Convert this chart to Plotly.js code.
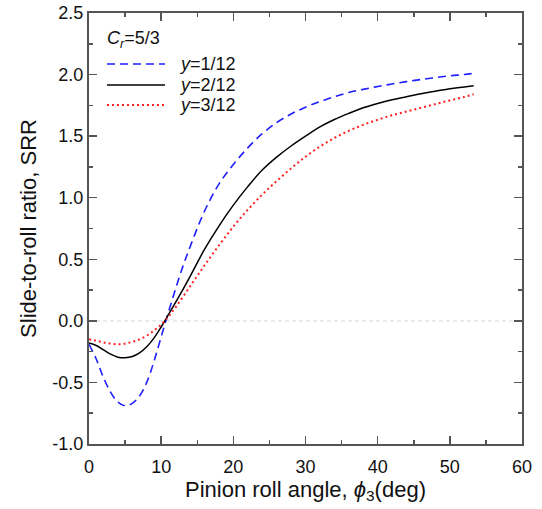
<!DOCTYPE html>
<html><head><meta charset="utf-8">
<script src="https://cdn.plot.ly/plotly-3.0.1.min.js"></script>
<style>html,body{margin:0;padding:0;background:#fff}</style>
</head><body>
<div id="chart" style="width:542px;height:509px"></div>
<script>
const seriesNames = ['<i>y</i>=1/12', '<i>y</i>=2/12', '<i>y</i>=3/12'];
const legendTitle = '<i>C</i><sub><i>r</i></sub>=5/3';
const x1 = [0, 1, 2, 3, 4, 5, 6, 7, 8, 9, 10, 11, 12, 13, 14, 16, 18, 20, 22, 24, 26, 28, 30, 32, 34, 36, 38, 40, 42, 44, 46, 48, 50, 52, 53.3];
const y1 = [-0.19, -0.31, -0.46, -0.58, -0.66, -0.69, -0.67, -0.61, -0.50, -0.33, -0.13, 0.07, 0.26, 0.44, 0.60, 0.89, 1.11, 1.27, 1.405, 1.52, 1.61, 1.68, 1.735, 1.78, 1.82, 1.855, 1.88, 1.903, 1.924, 1.943, 1.96, 1.975, 1.99, 2.00, 2.01];
const x2 = [0, 1, 2, 3, 4, 5, 6, 7, 8, 9, 10, 11, 12, 14, 16, 18, 20, 22, 24, 26, 28, 30, 32, 34, 36, 38, 40, 42, 44, 46, 48, 50, 52, 53.3];
const y2 = [-0.18, -0.20, -0.235, -0.27, -0.295, -0.30, -0.29, -0.26, -0.21, -0.14, -0.05, 0.05, 0.15, 0.36, 0.58, 0.77, 0.94, 1.09, 1.225, 1.33, 1.42, 1.50, 1.575, 1.635, 1.685, 1.73, 1.765, 1.795, 1.82, 1.845, 1.865, 1.885, 1.90, 1.91];
const x3 = [0, 1, 2, 3, 4, 5, 6, 7, 8, 9, 10, 11, 12, 14, 16, 18, 20, 22, 24, 26, 28, 30, 32, 34, 36, 38, 40, 42, 44, 46, 48, 50, 52, 53.3];
const y3 = [-0.15, -0.16, -0.175, -0.185, -0.19, -0.185, -0.17, -0.15, -0.12, -0.08, -0.03, 0.035, 0.11, 0.28, 0.45, 0.612, 0.765, 0.902, 1.025, 1.135, 1.238, 1.333, 1.415, 1.485, 1.543, 1.592, 1.633, 1.67, 1.70, 1.73, 1.76, 1.79, 1.818, 1.84];
const xTicks = [0, 10, 20, 30, 40, 50, 60];
const yTicks = [-1.0, -0.5, 0.0, 0.5, 1.0, 1.5, 2.0, 2.5];

const colors = ['#1f1fff', '#000000', '#ff2020'];
const dashes = ['8px,5px', 'solid', '2px,3px'];
const widths = [1.6, 1.5, 2];
const xs = [x1, x2, x3], ys = [y1, y2, y3];

const traces = xs.map((x, i) => ({
  x: x, y: ys[i], name: seriesNames[i], mode: 'lines', showlegend: false,
  line: {color: colors[i], width: widths[i], dash: dashes[i], shape: 'spline', smoothing: 1}
}));

const FONT = 'Liberation Sans, Arial, sans-serif';
const axisCommon = {
  showline: true, linecolor: '#555', linewidth: 2, mirror: 'allticks',
  ticks: 'inside', ticklen: 8, tickwidth: 1.5, tickcolor: '#555',
  showgrid: false, zeroline: false,
  tickfont: {family: FONT, size: 18, color: '#111'}
};

// manual legend (sample lines + labels) in paper coordinates
const legRowsY = [0.8817, 0.833, 0.7865];
const legendShapes = legRowsY.map((yy, i) => ({
  type: 'line', xref: 'paper', yref: 'paper', x0: 0.0416, x1: 0.1755, y0: yy, y1: yy,
  line: {color: colors[i], width: widths[i], dash: dashes[i]}
}));
const legendAnn = legRowsY.map((yy, i) => ({
  xref: 'paper', yref: 'paper', x: 0.203, y: yy, xanchor: 'left', yanchor: 'middle',
  text: seriesNames[i], showarrow: false, font: {family: FONT, size: 18, color: '#111'}
}));
legendAnn.push({xref: 'paper', yref: 'paper', x: 0.036, y: 0.9374, xanchor: 'left', yanchor: 'middle',
  text: legendTitle, showarrow: false, font: {family: FONT, size: 18, color: '#111'}});

const layout = {
  width: 542, height: 509,
  margin: {l: 89, r: 20, t: 13, b: 65},
  paper_bgcolor: '#fff', plot_bgcolor: '#fff',
  showlegend: false,
  xaxis: Object.assign({}, axisCommon, {
    range: [0, 60], tickvals: xTicks, ticktext: xTicks.map(String),
    ticklabelstandoff: 5,
    minor: {dtick: 5, tick0: 0, ticks: 'inside', ticklen: 4, tickwidth: 1.5, tickcolor: '#555'},
    title: {text: 'Pinion roll angle, <i>ϕ</i><sub>3</sub>(deg)', font: {family: FONT, size: 22, color: '#111'}, standoff: 2}
  }),
  yaxis: Object.assign({}, axisCommon, {
    range: [-1.0, 2.5], tickvals: yTicks, ticktext: yTicks.map(v => v.toFixed(1)),
    minor: {dtick: 0.25, tick0: 0, ticks: 'inside', ticklen: 4, tickwidth: 1.5, tickcolor: '#555'},
    title: {text: 'Slide-to-roll ratio, SRR', font: {family: FONT, size: 22, color: '#111'}, standoff: 10}
  }),
  shapes: [{type: 'line', xref: 'paper', x0: 0, x1: 1, yref: 'y', y0: 0, y1: 0, line: {color: '#d8d8d8', width: 1, dash: '4px,3px'}, layer: 'below'}].concat(legendShapes),
  annotations: legendAnn
};

Plotly.newPlot('chart', traces, layout, {displayModeBar: false, staticPlot: true});
</script>
</body></html>
